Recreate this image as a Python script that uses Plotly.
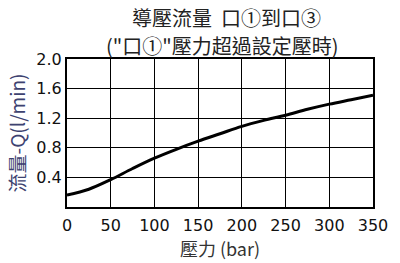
import plotly.graph_objects as go

pressure = [0, 25, 50, 75, 100, 125, 150, 175, 200, 225, 250, 275, 300, 325, 350]
flow = [0.16, 0.24, 0.37, 0.52, 0.66, 0.78, 0.89, 0.99, 1.09, 1.17, 1.24, 1.32, 1.39, 1.45, 1.51]

x_ticks = [0, 50, 100, 150, 200, 250, 300, 350]
y_ticks = [0.4, 0.8, 1.2, 1.6, 2.0]
y_tick_text = ["0.4", "0.8", "1.2", "1.6", "2.0"]

title1 = "導壓流量  口①到口③"
title2 = "(\"口①\"壓力超過設定壓時)"
x_title = "壓力 (bar)"
y_title = "流量-Q(l/min)"

tick_font = dict(family="DejaVu Sans", size=16, color="#111")
cjk = "Noto Sans CJK TC"

fig = go.Figure()
fig.add_trace(go.Scatter(x=pressure, y=flow, mode="lines", line=dict(color="black", width=3, shape="spline"),
                         showlegend=False, hoverinfo="skip"))

fig.update_layout(
    width=400, height=263,
    margin=dict(l=67, r=22, t=59, b=46),
    paper_bgcolor="white", plot_bgcolor="white",
    xaxis=dict(range=[0, 350], tickvals=x_ticks, showgrid=True, gridcolor="black", gridwidth=1.3,
               showline=True, linecolor="black", linewidth=2, mirror=True, zeroline=False,
               tickfont=tick_font, ticks="outside", ticklen=3, tickcolor="rgba(0,0,0,0)",
               title=dict(text=x_title, font=dict(family=cjk, size=18, color="#333"), standoff=3)),
    yaxis=dict(range=[0, 2.0], tickvals=y_ticks, ticktext=y_tick_text, showgrid=True, gridcolor="black", gridwidth=1.3,
               showline=True, linecolor="black", linewidth=2, mirror=True, zeroline=False,
               tickfont=tick_font, ticks="", ticklen=0,
               title=dict(text=y_title, font=dict(family=cjk, size=19, color="#3d4270"), standoff=6)),
)
fig.add_annotation(text=title1, x=0.52, y=15, xref="paper", yref="paper", showarrow=False,
                   font=dict(family=cjk, size=20, color="#222"))
fig.add_annotation(text=title2, x=0.505, y=45, xref="paper", yref="paper", showarrow=False,
                   font=dict(family=cjk, size=20, color="#222"))
# convert pixel y to paper coordinates
ph = 263 - 59 - 46
for a in fig.layout.annotations:
    a.y = 1 + (59 - a.y) / ph
    a.yanchor = "middle"
    a.xanchor = "center"
fig.write_html("out.html")
